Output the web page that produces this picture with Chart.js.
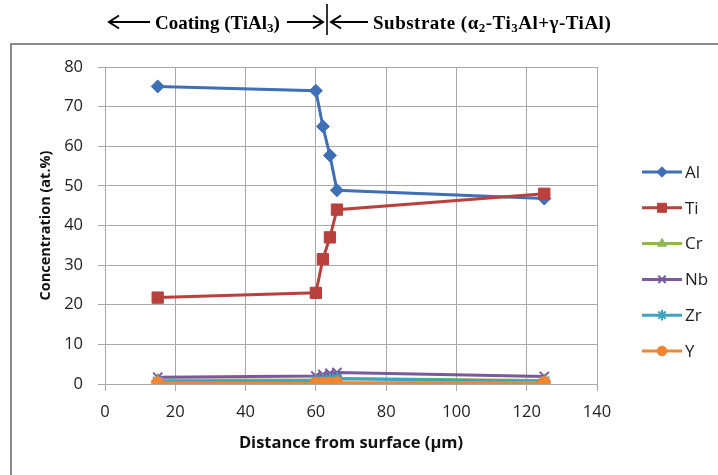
<!DOCTYPE html>
<html>
<head>
<meta charset="utf-8">
<script src="https://cdn.jsdelivr.net/npm/chart.js@4.4.1/dist/chart.umd.min.js"></script>
<style>
  body { margin: 0; background: #fff; }
  #wrap { position: relative; width: 718px; height: 475px; overflow: hidden; }
  #chart { position: absolute; left: 0; top: 0; }
  #header { position: absolute; left: 0; top: 0; }
</style>
</head>
<body>
<div id="wrap">
  <canvas id="chart" width="718" height="475"></canvas>
  <!-- region labels above the plot -->
  <svg id="header" width="718" height="42">
    <g stroke="#000" stroke-width="2" fill="none">
      <line x1="109" y1="22" x2="150" y2="22"/>
      <polyline points="119,15.5 109,22 119,28.5"/>
      <line x1="287" y1="22" x2="323" y2="22"/>
      <polyline points="313,15.5 323,22 313,28.5"/>
      <line x1="327" y1="4" x2="327" y2="35" stroke-width="1.6"/>
      <line x1="331" y1="22" x2="368" y2="22"/>
      <polyline points="341,15.5 331,22 341,28.5"/>
    </g>
    <g font-family="Liberation Serif" font-weight="bold" font-size="19" fill="#000">
      <text x="155" y="29">Coating (TiAl<tspan font-size="13" dy="3">3</tspan><tspan dy="-3">)</tspan></text>
      <text x="373" y="29" letter-spacing="0.5">Substrate (α<tspan font-size="13" dy="3">2</tspan><tspan dy="-3">-Ti</tspan><tspan font-size="13" dy="3">3</tspan><tspan dy="-3">Al+γ-TiAl)</tspan></text>
    </g>
  </svg>
</div>
<script>
// distance from surface (um) of each measured point
const distance = [15, 60, 62, 64, 66, 125];

// concentrations in at.%
const al = [75.1, 74.0, 65.0, 57.7, 48.9, 46.8];
const ti = [21.8, 23.0, 31.5, 37.0, 44.0, 48.0];
const cr = [1.0, 1.1, 1.2, 1.3, 1.4, 0.9];
const nb = [1.7, 2.0, 2.4, 2.7, 2.9, 1.9];
const zr = [0.6, 0.8, 1.0, 1.2, 1.3, 0.7];
const y = [0.3, 0.2, 0.2, 0.2, 0.3, 0.4];

const xTicks = [0, 20, 40, 60, 80, 100, 120, 140];
const yTicks = [0, 10, 20, 30, 40, 50, 60, 70, 80];

const series = [
    { label: 'Al', values: al, color: '#3f6fb5', style: 'rectRot', radius: 6.5 },
    { label: 'Ti', values: ti, color: '#b8413e', style: 'rect', radius: 8 },
    { label: 'Cr', values: cr, color: '#8fb74d', style: 'triangle', radius: 6.5 },
    { label: 'Nb', values: nb, color: '#7a5a9e', style: 'crossRot', radius: 6.5 },
    { label: 'Zr', values: zr, color: '#3fa3bd', style: 'star', radius: 6.5 },
    { label: 'Y', values: y, color: '#ef8632', style: 'circle', radius: 6 }
];

// later series are drawn on top, so give them the lower order
const datasets = series.map((s, i) => ({
    label: s.label,
    data: distance.map((d, k) => ({ x: d, y: s.values[k] })),
    order: series.length - i,
    borderColor: s.color,
    backgroundColor: s.color,
    borderWidth: 3,
    pointStyle: s.style,
    pointRadius: s.radius,
    pointBorderWidth: (s.style === 'crossRot' || s.style === 'star') ? 2 : 1,
    pointBackgroundColor: s.color,
    pointBorderColor: s.color,
    tension: 0
}));

// outer frame of the chart
const frame = {
    id: 'frame',
    beforeDraw(chart) {
        const ctx = chart.ctx;
        ctx.save();
        ctx.fillStyle = '#fff';
        ctx.fillRect(0, 0, chart.width, chart.height);
        ctx.strokeStyle = '#8a8a8a';
        ctx.lineWidth = 2;
        ctx.strokeRect(11, 44, 730, 460);
        ctx.restore();
    }
};

// legend with line + marker, like a spreadsheet legend
const sideLegend = {
    id: 'sideLegend',
    afterDraw(chart) {
        const ctx = chart.ctx;
        ctx.save();
        series.forEach((s, i) => {
            const ds = chart.data.datasets[i];
            const ly = 172 + i * 35.8;
            ctx.strokeStyle = ds.borderColor;
            ctx.lineWidth = 3;
            ctx.beginPath();
            ctx.moveTo(642, ly);
            ctx.lineTo(682, ly);
            ctx.stroke();
            ctx.fillStyle = ds.backgroundColor;
            ctx.lineWidth = ds.pointBorderWidth;
            Chart.helpers.drawPoint(ctx, {
                pointStyle: ds.pointStyle,
                radius: ds.pointRadius * 0.8,
                rotation: 0,
                borderWidth: ds.pointBorderWidth
            }, 662, ly);
            ctx.fillStyle = '#222';
            ctx.font = '17px "Open Sans"';
            ctx.textBaseline = 'middle';
            ctx.textAlign = 'left';
            ctx.fillText(ds.label, 685, ly + 1);
        });
        ctx.restore();
    }
};

new Chart(document.getElementById('chart'), {
    type: 'line',
    data: { datasets: datasets },
    options: {
        responsive: false,
        animation: false,
        layout: { padding: { top: 67, right: 121, bottom: 0, left: 0 } },
        plugins: {
            legend: { display: false },
            tooltip: { enabled: false }
        },
        scales: {
            x: {
                type: 'linear',
                min: 0,
                max: 140,
                afterBuildTicks: axis => { axis.ticks = xTicks.map(v => ({ value: v })); },
                afterFit: axis => { axis.height = 91; },
                grid: { color: '#a8a8a8', lineWidth: 1, tickLength: 7 },
                border: { color: '#a8a8a8', width: 1 },
                ticks: { color: '#222', font: { family: 'Open Sans', size: 16.5 }, padding: 11, maxRotation: 0 },
                title: {
                    display: true,
                    text: 'Distance from surface (μm)',
                    color: '#111',
                    font: { family: 'Open Sans', size: 16.5, weight: 'bold' },
                    padding: { top: 0, bottom: 22 }
                }
            },
            y: {
                min: 0,
                max: 80,
                afterBuildTicks: axis => { axis.ticks = yTicks.map(v => ({ value: v })); },
                afterFit: axis => { axis.width = 105; },
                grid: { color: '#a8a8a8', lineWidth: 1, tickLength: 7 },
                border: { color: '#a8a8a8', width: 1 },
                ticks: { color: '#222', font: { family: 'Open Sans', size: 16.5 }, padding: 15 },
                title: {
                    display: true,
                    text: 'Concentration (at.%)',
                    color: '#111',
                    font: { family: 'Open Sans', size: 14.5, weight: 'bold' },
                    padding: { top: 37, bottom: 0 }
                }
            }
        }
    },
    plugins: [frame, sideLegend]
});
</script>
</body>
</html>
